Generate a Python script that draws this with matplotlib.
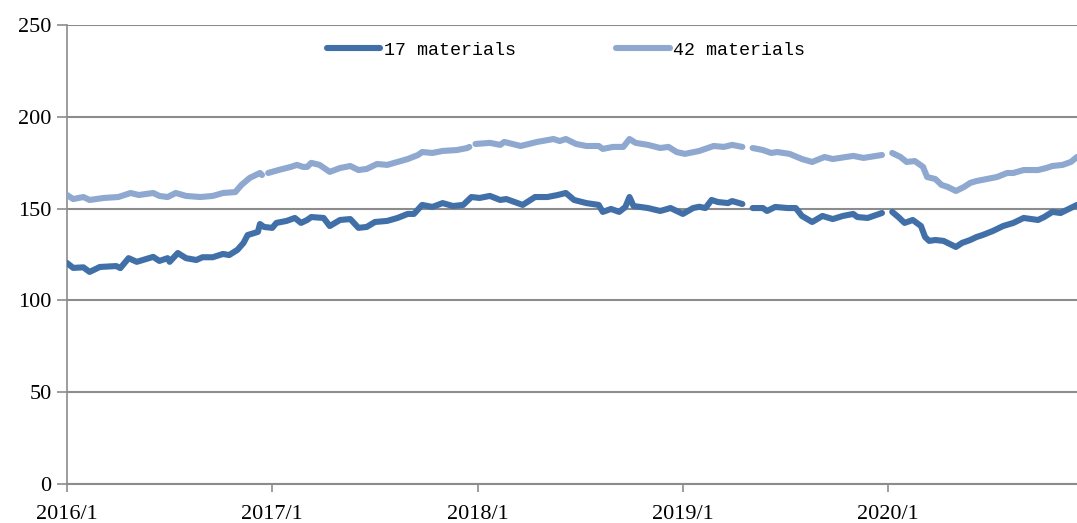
import numpy as np
import matplotlib
matplotlib.use('Agg')
import matplotlib.pyplot as plt

nan = np.nan

# decimal-year positions and index values, NaN marks a break in the line
t17 = [2016.00, 2016.03, 2016.08, 2016.11, 2016.16, 2016.24, 2016.26, 2016.30, 2016.34, 2016.42,
       2016.45, 2016.49, 2016.50, 2016.54, 2016.58, 2016.63, 2016.66, 2016.71, 2016.76, 2016.79,
       2016.83, 2016.86, 2016.88, 2016.93, 2016.94, 2016.96, 2017.00, 2017.02, 2017.07, 2017.11,
       2017.14, 2017.17, 2017.19, 2017.25, 2017.28, 2017.33, 2017.38, 2017.42, 2017.46, 2017.50,
       2017.56, 2017.61, 2017.66, 2017.69, 2017.73, 2017.78, 2017.83, 2017.88, 2017.93, 2017.97,
       2018.01, 2018.06, 2018.11, 2018.14, 2018.22, 2018.28, 2018.34, 2018.39, 2018.43, 2018.47,
       2018.53, 2018.59, 2018.61, 2018.65, 2018.69, 2018.72, 2018.74, 2018.76, 2018.83, 2018.89,
       2018.94, 2019.00, 2019.05, 2019.08, 2019.11, 2019.14, 2019.17, 2019.22, 2019.24, 2019.29,
       2019.31, 2019.34, 2019.39, 2019.41, 2019.45, 2019.51, 2019.55, 2019.58, 2019.63, 2019.68,
       2019.73, 2019.78, 2019.83, 2019.85, 2019.90, 2019.97, 2019.99, 2020.02, 2020.05, 2020.08,
       2020.12, 2020.16, 2020.18, 2020.20, 2020.23, 2020.27, 2020.29, 2020.33, 2020.36, 2020.40,
       2020.43, 2020.46, 2020.51, 2020.56, 2020.61, 2020.66, 2020.73, 2020.76, 2020.80, 2020.84,
       2020.88, 2020.92]
v17 = [120.4, 117.7, 118.0, 115.5, 118.2, 118.7, 117.6, 123.0, 121.0, 123.7,
       121.5, 123.0, 121.0, 125.8, 123.0, 122.0, 123.5, 123.5, 125.3, 124.7,
       127.5, 131.3, 135.6, 137.3, 141.6, 140.0, 139.5, 142.2, 143.3, 144.9,
       142.2, 143.8, 145.4, 144.9, 140.5, 143.8, 144.3, 139.5, 140.0, 142.7,
       143.3, 144.9, 147.1, 147.1, 152.0, 150.9, 153.0, 151.4, 152.0, 156.3,
       155.8, 156.9, 154.7, 155.2, 152.0, 156.3, 156.3, 157.4, 158.5, 154.7,
       153.0, 152.0, 148.2, 149.8, 148.2, 150.9, 156.3, 151.4, 150.3, 148.7,
       150.3, 147.1, 150.3, 151.0, 150.3, 154.7, 153.6, 153.0, 154.1, 152.5,
       nan, 150.3, 150.3, 148.7, 150.9, 150.3, 150.3, 146.0, 142.7, 146.0,
       144.3, 146.0, 147.1, 145.4, 144.9, 147.6, nan, 148.2, 145.4, 142.2,
       143.8, 140.5, 134.5, 132.4, 132.9, 132.4, 131.3, 129.1, 131.3, 132.9,
       134.5, 135.6, 137.8, 140.5, 142.2, 144.9, 143.8, 145.4, 148.2, 147.6,
       149.8, 152.0]

t42 = [2016.00, 2016.03, 2016.08, 2016.11, 2016.18, 2016.25, 2016.31, 2016.35, 2016.42, 2016.45,
       2016.49, 2016.53, 2016.58, 2016.65, 2016.71, 2016.76, 2016.82, 2016.85, 2016.89, 2016.94,
       2016.95, 2016.965, 2016.98, 2017.03, 2017.09, 2017.12, 2017.15, 2017.17, 2017.19, 2017.23,
       2017.28, 2017.33, 2017.38, 2017.42, 2017.46, 2017.51, 2017.56, 2017.61, 2017.66, 2017.71,
       2017.73, 2017.78, 2017.83, 2017.90, 2017.95, 2017.96, 2017.975, 2017.99, 2018.06, 2018.11,
       2018.13, 2018.21, 2018.29, 2018.37, 2018.40, 2018.43, 2018.48, 2018.53, 2018.59, 2018.61,
       2018.66, 2018.71, 2018.74, 2018.77, 2018.83, 2018.89, 2018.93, 2018.97, 2019.01, 2019.08,
       2019.15, 2019.20, 2019.24, 2019.29, 2019.31, 2019.34, 2019.39, 2019.43, 2019.46, 2019.52,
       2019.58, 2019.63, 2019.69, 2019.73, 2019.83, 2019.88, 2019.97, 2019.99, 2020.02, 2020.06,
       2020.09, 2020.13, 2020.17, 2020.19, 2020.23, 2020.26, 2020.29, 2020.33, 2020.37, 2020.40,
       2020.43, 2020.48, 2020.53, 2020.58, 2020.61, 2020.66, 2020.73, 2020.77, 2020.80, 2020.85,
       2020.89, 2020.92]
v42 = [157.4, 155.2, 156.3, 154.7, 155.8, 156.3, 158.5, 157.4, 158.5, 156.9,
       156.3, 158.5, 156.9, 156.3, 156.9, 158.5, 159.0, 162.9, 166.7, 169.4,
       168.3, nan, 169.4, 171.0, 172.7, 173.8, 172.7, 172.7, 174.9, 173.8,
       170.0, 172.1, 173.2, 171.0, 171.6, 174.3, 173.8, 175.4, 177.0, 179.2,
       180.8, 180.3, 181.4, 181.9, 183.0, 183.6, nan, 185.2, 185.8, 184.7,
       186.3, 184.1, 186.3, 187.9, 186.8, 187.9, 185.2, 184.1, 184.1, 182.5,
       183.6, 183.6, 187.9, 185.8, 184.7, 183.0, 183.6, 180.8, 179.8, 181.4,
       184.1, 183.6, 184.7, 183.6, nan, 183.0, 181.9, 180.3, 180.8, 179.8,
       177.0, 175.4, 178.1, 177.0, 178.7, 177.6, 179.2, nan, 180.3, 178.1,
       175.4, 175.9, 172.7, 167.2, 166.1, 162.9, 161.8, 159.6, 161.8, 164.0,
       165.0, 166.1, 167.2, 169.4, 169.4, 171.0, 171.0, 172.1, 173.2, 173.8,
       175.4, 178.1]

years = [2016, 2017, 2018, 2019, 2020]
year_labels = ['2016/1', '2017/1', '2018/1', '2019/1', '2020/1']
series_names = ['17 materials', '42 materials']

DARK = '#4170a9'
LIGHT = '#8ea8d0'
GRID = '#8c8c8c'

fig = plt.figure(figsize=(10.77, 5.23), dpi=100)
ax = fig.add_axes([0.0622, 0.0746, 0.9378, 0.8776])

ax.plot(t17, v17, color=DARK, lw=4.4, solid_capstyle='round', solid_joinstyle='round',
        label=series_names[0], zorder=3)
ax.plot(t42, v42, color=LIGHT, lw=4.4, solid_capstyle='round', solid_joinstyle='round',
        label=series_names[1], zorder=3)

ax.set_xlim(2016, 2020.92)
ax.set_ylim(0, 250)
ax.set_yticks(range(0, 251, 50))
ax.set_xticks(years)
ax.set_xticklabels(year_labels)
ax.yaxis.grid(True, color=GRID, lw=1.5)
ax.set_axisbelow(True)

for s in ['top', 'right']:
    ax.spines[s].set_visible(False)
ax.spines['left'].set_color(GRID)
ax.spines['left'].set_linewidth(1.2)
ax.spines['bottom'].set_color(GRID)
ax.spines['bottom'].set_linewidth(1.5)
ax.tick_params(axis='y', length=7, width=1.2, color=GRID, pad=4)
ax.tick_params(axis='x', length=6, width=1.2, color=GRID, pad=9)
for lab in ax.get_xticklabels() + ax.get_yticklabels():
    lab.set_fontfamily('Liberation Serif')
    lab.set_fontsize(16)
    lab.set_color('black')

leg = ax.legend(loc='center', bbox_to_anchor=(0.494, 0.945), ncol=2, frameon=False,
                prop={'family': 'Liberation Mono', 'size': 13.2},
                handlelength=2.9, handletextpad=0.2, columnspacing=5.5)

fig.savefig('out.png', dpi=100)
